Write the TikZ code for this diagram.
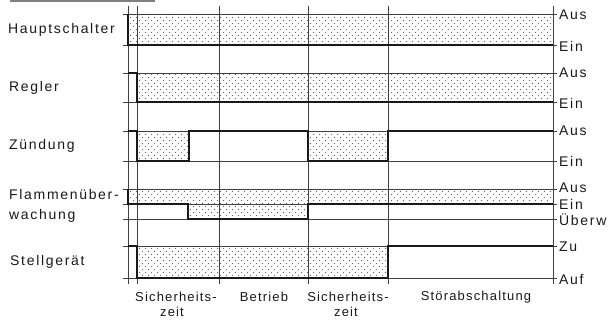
\documentclass[tikz,border=0pt]{standalone}
\usepackage{fontspec}
\setmainfont{Liberation Sans}[LetterSpace=12]
\newfontfamily\botfont{Liberation Sans}[LetterSpace=9]
\usetikzlibrary{patterns}
\pgfdeclarepatternformonly{sparsedots}{\pgfqpoint{-1pt}{-1pt}}{\pgfqpoint{7pt}{7pt}}{\pgfqpoint{6pt}{6pt}}{%
  \pgfpathcircle{\pgfqpoint{1.5pt}{1.5pt}}{0.55pt}%
  \pgfpathcircle{\pgfqpoint{4.5pt}{4.5pt}}{0.55pt}%
  \pgfusepath{fill}}
\tikzset{
  shade/.style={pattern=sparsedots, pattern color=black!60, draw=none},
  refline/.style={draw=black!75, line width=0.8pt},
  sig/.style={draw=black!90, line width=1.8pt, line join=miter},
  lab/.style={inner sep=0pt, font=\fontsize{14}{16}\selectfont, text=black!90},
  blab/.style={inner sep=0pt, font=\botfont\fontsize{13}{15}\selectfont, text=black!90},
}
\begin{document}
\begin{tikzpicture}[x=1pt,y=-1pt]
\useasboundingbox (0,0) rectangle (609,322);
% scan artifact line at top
\draw[black!50, line width=1.2pt] (10,1) -- (155,1);
% shaded areas
\fill[shade] (128,14) rectangle (553,45);
\fill[shade] (137,73) rectangle (553,102);
\fill[shade] (137,131) rectangle (189,161);
\fill[shade] (308,131) rectangle (388,161);
\fill[shade] (128,189) rectangle (553,204);
\fill[shade] (188,204) rectangle (308,219);
\fill[shade] (137,246) rectangle (388,278);
% vertical lines
\foreach \xx in {128,137,219,308,388,553}
  \draw[refline] (\xx,6) -- (\xx,284);
% horizontal reference lines
\foreach \yy in {14,45,73,102,131,161,189,204,219,246,278}
  \draw[refline] (123,\yy) -- (557,\yy);
% signals
\draw[sig] (128,14) -- (128,45) -- (553,45);
\draw[sig] (128,73) -- (137,73) -- (137,102) -- (553,102);
\draw[sig] (128,131) -- (137,131) -- (137,161) -- (189,161) -- (189,131) -- (308,131) -- (308,161) -- (388,161) -- (388,131) -- (553,131);
\draw[sig] (128,189) -- (128,204) -- (188,204) -- (188,219) -- (308,219) -- (308,204) -- (553,204);
\draw[sig] (128,246) -- (137,246) -- (137,278) -- (388,278) -- (388,246) -- (553,246);
% left labels
\node[lab, anchor=west] (lH) at (8,30) {Hauptschalter};
\node[lab, anchor=west] (lR) at (9,88) {Regler};
\node[lab, anchor=west] (lZ) at (9,146) {Zündung};
\node[lab, anchor=west] (lF1) at (9,194) {Flammenüber-};
\node[lab, anchor=west] (lF2) at (9,216) {wachung};
\node[lab, anchor=west] (lS) at (10,262) {Stellgerät};
% right labels
\node[lab, anchor=west] (r1) at (559,15) {Aus};
\node[lab, anchor=west] (r2) at (559,46) {Ein};
\node[lab, anchor=west] (r3) at (559,73) {Aus};
\node[lab, anchor=west] (r4) at (559,103) {Ein};
\node[lab, anchor=west] (r5) at (559,131) {Aus};
\node[lab, anchor=west] (r6) at (559,161) {Ein};
\node[lab, anchor=west] (r7) at (559,188) {Aus};
\node[lab, anchor=west] (r8) at (559,204) {Ein};
\node[lab, anchor=west] (r9) at (559,220) {Überw};
\node[lab, anchor=west] (r10) at (559,247) {Zu};
\node[lab, anchor=west] (r11) at (559,279) {Auf};
% bottom labels
\node[blab] (b1) at (176,297) {Sicherheits-};
\node[blab] (b1z) at (172,312) {zeit};
\node[blab] (b2) at (264,297) {Betrieb};
\node[blab] (b3) at (348,297) {Sicherheits-};
\node[blab] (b3z) at (346,312) {zeit};
\node[blab] (b4) at (476,297) {Störabschaltung};
\end{tikzpicture}
\end{document}
